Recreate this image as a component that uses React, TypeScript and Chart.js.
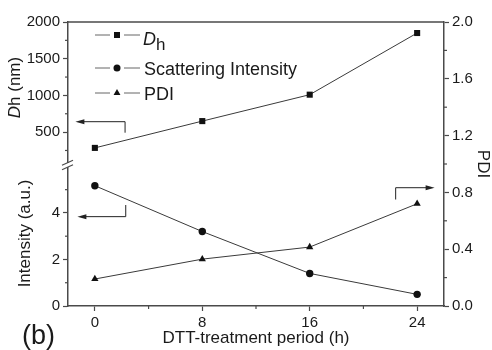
import React, { useEffect, useRef } from "react";
import { Chart, registerables } from "chart.js";
Chart.register(...registerables);

const periods = [0, 8, 16, 24];
const dh = [285, 650, 1010, 1850];
const intensity = [5.17, 3.2, 1.4, 0.5];
const pdi = [0.19, 0.33, 0.415, 0.72];

const xTicks = [0, 8, 16, 24];
const xMinor = [4, 12, 20];
const dhTicks = [500, 1000, 1500, 2000];
const dhMinor = [250, 750, 1250, 1750];
const intTicks = [0, 2, 4];
const intMinor = [1, 3, 5];
const pdiTicks = [0, 0.4, 0.8, 1.2, 1.6, 2.0];
const pdiMinor = [0.2, 0.6, 1.0, 1.4, 1.8];

// arrows: [scaleY, x-from(vertical), y-start, y-corner, x-tip]
const arrows = [
  { axis: "yD", xv: 2.25, y0: 492, y1: 642, xTip: -1.45 },
  { axis: "yI", xv: 2.3, y0: 4.34, y1: 3.84, xTip: -1.3 },
  { axis: "yP", xv: 22.4, y0: 0.75, y1: 0.833, xTip: 25.3 },
];

const FONT = "'Liberation Sans', Arial, sans-serif";
const AXIS = "#4a4a4a";
const TEXT = "#1a1a1a";
const LINE = "#3a3a3a";

function drawMarker(ctx: CanvasRenderingContext2D, style: string, x: number, y: number) {
  ctx.beginPath();
  if (style === "rect") {
    ctx.rect(x - 3, y - 3, 6, 6);
  } else if (style === "circle") {
    ctx.arc(x, y, 3.5, 0, Math.PI * 2);
  } else {
    const r = 4;
    ctx.moveTo(x, y - r);
    ctx.lineTo(x + r * Math.sin(Math.PI / 3), y + r / 2);
    ctx.lineTo(x - r * Math.sin(Math.PI / 3), y + r / 2);
    ctx.closePath();
  }
  ctx.fill();
}

const decor = {
  id: "decor",
  afterDraw(chart: any) {
    const ctx: CanvasRenderingContext2D = chart.ctx;
    const { x, yD, yI, yP } = chart.scales;
    const area = chart.chartArea;
    ctx.save();
    // top frame
    ctx.strokeStyle = AXIS;
    ctx.lineWidth = 1.5;
    ctx.beginPath();
    ctx.moveTo(area.left, area.top);
    ctx.lineTo(area.right, area.top);
    ctx.stroke();

    // minor ticks
    ctx.lineWidth = 1.2;
    const ml = 3;
    xMinor.forEach((v) => {
      const px = x.getPixelForValue(v);
      ctx.beginPath();
      ctx.moveTo(px, area.bottom);
      ctx.lineTo(px, area.bottom + ml);
      ctx.stroke();
    });
    dhMinor.forEach((v) => {
      const py = yD.getPixelForValue(v);
      if (py > yD.bottom) return;
      ctx.beginPath();
      ctx.moveTo(area.left, py);
      ctx.lineTo(area.left - ml, py);
      ctx.stroke();
    });
    intMinor.forEach((v) => {
      const py = yI.getPixelForValue(v);
      ctx.beginPath();
      ctx.moveTo(area.left, py);
      ctx.lineTo(area.left - ml, py);
      ctx.stroke();
    });
    pdiMinor.forEach((v) => {
      const py = yP.getPixelForValue(v);
      ctx.beginPath();
      ctx.moveTo(area.right, py);
      ctx.lineTo(area.right + ml, py);
      ctx.stroke();
    });

    // axis break
    const yb = yD.bottom;
    ctx.fillStyle = "#fff";
    ctx.fillRect(area.left - 2, yb - 2, 4, 4);
    ctx.strokeStyle = AXIS;
    ctx.lineWidth = 1.2;
    [-2.2, 2.2].forEach((off) => {
      ctx.beginPath();
      ctx.moveTo(area.left - 6, yb + off + 2.5);
      ctx.lineTo(area.left + 5, yb + off - 2.5);
      ctx.stroke();
    });

    // arrows
    ctx.strokeStyle = "#222";
    ctx.fillStyle = "#222";
    ctx.lineWidth = 1;
    arrows.forEach((a) => {
      const sc = chart.scales[a.axis];
      const px = x.getPixelForValue(a.xv);
      const py0 = sc.getPixelForValue(a.y0);
      const py1 = sc.getPixelForValue(a.y1);
      const tip = x.getPixelForValue(a.xTip);
      const dir = tip < px ? -1 : 1;
      ctx.beginPath();
      ctx.moveTo(px, py0);
      ctx.lineTo(px, py1);
      ctx.lineTo(tip - dir * 7, py1);
      ctx.stroke();
      ctx.beginPath();
      ctx.moveTo(tip, py1);
      ctx.lineTo(tip - dir * 9, py1 - 2.5);
      ctx.lineTo(tip - dir * 9, py1 + 2.5);
      ctx.closePath();
      ctx.fill();
    });

    // legend
    const legend = [
      { style: "rect", y: 35 },
      { style: "circle", y: 68 },
      { style: "triangle", y: 93 },
    ];
    ctx.strokeStyle = "#666";
    ctx.fillStyle = "#111";
    ctx.lineWidth = 1;
    legend.forEach((l) => {
      ctx.beginPath();
      ctx.moveTo(95, l.y);
      ctx.lineTo(110, l.y);
      ctx.moveTo(124, l.y);
      ctx.lineTo(140, l.y);
      ctx.stroke();
      drawMarker(ctx, l.style, 117, l.y);
    });
    ctx.fillStyle = TEXT;
    ctx.textBaseline = "alphabetic";
    ctx.textAlign = "left";
    ctx.font = `italic 18px ${FONT}`;
    ctx.fillText("D", 143, 45);
    ctx.font = `17px ${FONT}`;
    ctx.fillText("h", 156, 50);
    ctx.font = `18px ${FONT}`;
    ctx.fillText("Scattering Intensity", 144, 75);
    ctx.fillText("PDI", 144, 100);

    // axis titles
    ctx.font = `17px ${FONT}`;
    ctx.textAlign = "center";
    ctx.textBaseline = "middle";
    ctx.fillText("DTT-treatment period (h)", (area.left + area.right) / 2, 338);

    // Dh (nm)
    ctx.save();
    ctx.translate(15, (yD.top + yD.bottom) / 2 - 6);
    ctx.rotate(-Math.PI / 2);
    ctx.textAlign = "left";
    ctx.font = `italic 17px ${FONT}`;
    const wD = ctx.measureText("D").width;
    ctx.font = `17px ${FONT}`;
    const wR = ctx.measureText("h (nm)").width;
    const start = -(wD + wR) / 2;
    ctx.font = `italic 17px ${FONT}`;
    ctx.fillText("D", start, 0);
    ctx.font = `17px ${FONT}`;
    ctx.fillText("h (nm)", start + wD, 0);
    ctx.restore();

    // Intensity
    ctx.save();
    ctx.translate(25, (yI.top + yI.bottom) / 2 - 2);
    ctx.rotate(-Math.PI / 2);
    ctx.font = `17px ${FONT}`;
    ctx.textAlign = "center";
    ctx.fillText("Intensity (a.u.)", 0, 0);
    ctx.restore();

    // PDI right
    ctx.save();
    ctx.translate(483, (area.top + area.bottom) / 2);
    ctx.rotate(Math.PI / 2);
    ctx.font = `17px ${FONT}`;
    ctx.textAlign = "center";
    ctx.fillText("PDI", 0, 0);
    ctx.restore();

    // (b)
    ctx.font = `27px ${FONT}`;
    ctx.textAlign = "left";
    ctx.textBaseline = "alphabetic";
    ctx.fillText("(b)", 22, 344);

    ctx.restore();
  },
};

export default function App() {
  const ref = useRef<HTMLCanvasElement | null>(null);
  useEffect(() => {
    if (!ref.current) return;
    const tickFont = { family: FONT, size: 15 };
    const common = (ticks: number[], fmt: (v: number) => string) => ({
      afterBuildTicks: (s: any) => {
        s.ticks = ticks.map((v) => ({ value: v }));
      },
      ticks: {
        font: tickFont,
        color: TEXT,
        padding: 3,
        autoSkip: false,
        maxRotation: 0,
        callback: (v: any) => fmt(Number(v)),
      },
      grid: {
        drawOnChartArea: false,
        drawTicks: true,
        tickLength: 5,
        tickColor: AXIS,
        tickWidth: 1.2,
      },
      border: { color: AXIS, width: 1.5 },
    });
    const chart = new Chart(ref.current, {
      type: "line",
      data: {
        datasets: [
          {
            label: "Dh",
            data: periods.map((p, i) => ({ x: p, y: dh[i] })),
            xAxisID: "x",
            yAxisID: "yD",
            borderColor: LINE,
            borderWidth: 1,
            pointStyle: "rect",
            pointRadius: 4.3,
            pointBackgroundColor: "#111",
            pointBorderColor: "#111",
            pointBorderWidth: 0,
          },
          {
            label: "Scattering Intensity",
            data: periods.map((p, i) => ({ x: p, y: intensity[i] })),
            xAxisID: "x",
            yAxisID: "yI",
            borderColor: LINE,
            borderWidth: 1,
            pointStyle: "circle",
            pointRadius: 3.7,
            pointBackgroundColor: "#111",
            pointBorderColor: "#111",
            pointBorderWidth: 0,
          },
          {
            label: "PDI",
            data: periods.map((p, i) => ({ x: p, y: pdi[i] })),
            xAxisID: "x",
            yAxisID: "yP",
            borderColor: LINE,
            borderWidth: 1,
            pointStyle: "triangle",
            pointRadius: 4.2,
            pointBackgroundColor: "#111",
            pointBorderColor: "#111",
            pointBorderWidth: 0,
          },
        ],
      },
      options: {
        responsive: false,
        animation: false,
        events: [],
        layout: { padding: { top: 22, left: 0, right: 0, bottom: 0 } },
        plugins: { legend: { display: false }, tooltip: { enabled: false } },
        scales: {
          x: {
            type: "linear",
            position: "bottom",
            min: -2,
            max: 26,
            ...common(xTicks, (v) => String(v)),
            afterFit: (s: any) => {
              s.height = 44;
            },
          },
          yI: {
            type: "linear",
            position: "left",
            stack: "left",
            stackWeight: 141,
            min: 0,
            max: 6.06,
            ...common(intTicks, (v) => String(v)),
            afterFit: (s: any) => {
              s.width = 68;
            },
          },
          yD: {
            type: "linear",
            position: "left",
            stack: "left",
            stackWeight: 143,
            min: 52,
            max: 2000,
            ...common(dhTicks, (v) => String(v)),
            afterFit: (s: any) => {
              s.width = 68;
            },
          },
          yP: {
            type: "linear",
            position: "right",
            min: 0,
            max: 2,
            ...common(pdiTicks, (v) => v.toFixed(1)),
            afterFit: (s: any) => {
              s.width = 48;
            },
          },
        } as any,
      },
      plugins: [decor],
    });
    return () => chart.destroy();
  }, []);
  return (
    <canvas
      ref={ref}
      width={492}
      height={350}
      style={{ position: "fixed", left: 0, top: 0, display: "block", background: "#fff" }}
    />
  );
}
